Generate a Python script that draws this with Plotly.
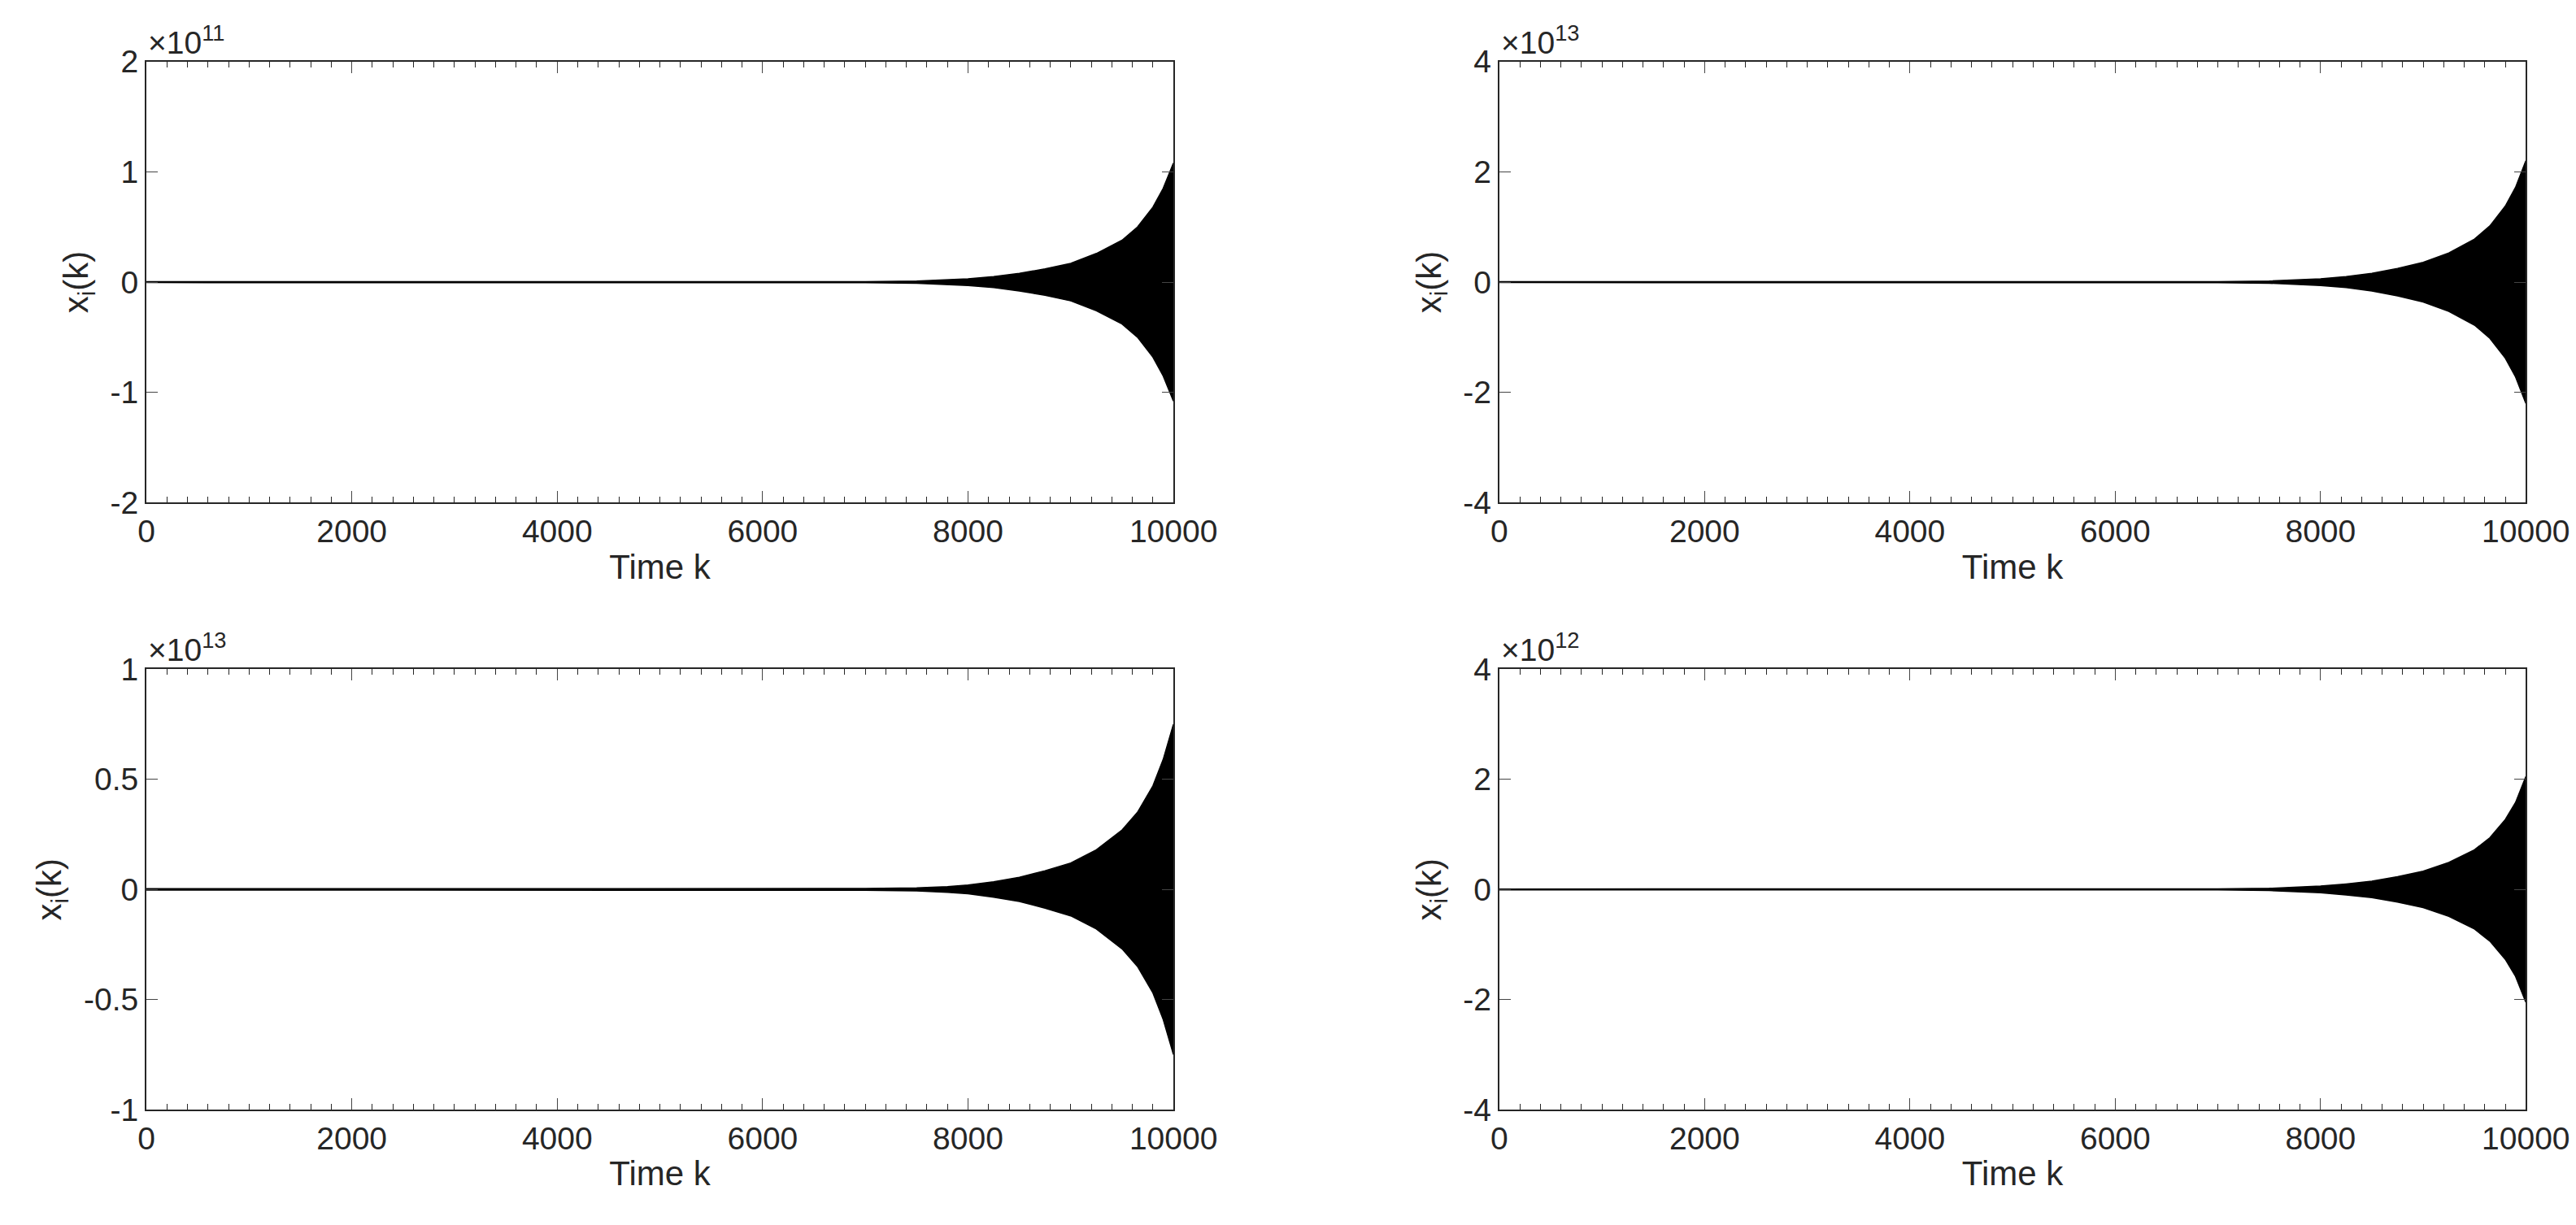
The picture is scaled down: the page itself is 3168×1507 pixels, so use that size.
import plotly.graph_objects as go
from plotly.subplots import make_subplots

# envelope of the oscillation |x_i(k)| (in units of the panel exponent)
k = [0, 1000, 2000, 3000, 4000, 5000, 6000, 7000, 7500, 7800, 8000, 8250, 8500, 8750, 9000, 9250, 9500, 9650, 9800, 9900, 10000]
env_a = [0.004, 0.004, 0.004, 0.004, 0.004, 0.004, 0.004, 0.005, 0.01, 0.02, 0.03, 0.05, 0.08, 0.12, 0.17, 0.26, 0.38, 0.5, 0.68, 0.85, 1.08]
env_b = [0.008, 0.008, 0.008, 0.008, 0.008, 0.008, 0.008, 0.01, 0.02, 0.04, 0.06, 0.1, 0.16, 0.25, 0.36, 0.53, 0.78, 1.02, 1.38, 1.72, 2.2]
env_c = [0.003, 0.003, 0.003, 0.003, 0.003, 0.003, 0.003, 0.004, 0.007, 0.013, 0.02, 0.035, 0.055, 0.085, 0.12, 0.18, 0.27, 0.35, 0.47, 0.59, 0.75]
env_d = [0.008, 0.008, 0.008, 0.008, 0.008, 0.008, 0.008, 0.01, 0.02, 0.04, 0.06, 0.1, 0.15, 0.23, 0.33, 0.49, 0.72, 0.94, 1.27, 1.58, 2.05]
x_ticks = [0, 2000, 4000, 6000, 8000, 10000]
x_labels = ["0", "2000", "4000", "6000", "8000", "10000"]

panels = [
    (env_a, "11", [-2, 2], [-2, -1, 0, 1, 2], ["-2", "-1", "0", "1", "2"]),
    (env_b, "13", [-4, 4], [-4, -2, 0, 2, 4], ["-4", "-2", "0", "2", "4"]),
    (env_c, "13", [-1, 1], [-1, -0.5, 0, 0.5, 1], ["-1", "-0.5", "0", "0.5", "1"]),
    (env_d, "12", [-4, 4], [-4, -2, 0, 2, 4], ["-4", "-2", "0", "2", "4"]),
]

fig = make_subplots(rows=2, cols=2)
font = dict(family="Liberation Sans, Arial", size=39, color="#262626")
title_font = dict(family="Liberation Sans, Arial", size=42, color="#262626")

for i, (env, expo, yr, tv, tt) in enumerate(panels):
    r, c = i // 2 + 1, i % 2 + 1
    fig.add_trace(go.Scatter(x=k, y=env, mode="lines", line=dict(color="black", width=1.5),
                             showlegend=False, hoverinfo="skip"), row=r, col=c)
    fig.add_trace(go.Scatter(x=k, y=[-v for v in env], mode="lines", line=dict(color="black", width=1.5),
                             fill="tonexty", fillcolor="black", showlegend=False, hoverinfo="skip"), row=r, col=c)
    fig.update_xaxes(range=[0, 10000], tickvals=x_ticks, ticktext=x_labels, automargin=False,
                     ticks="inside", ticklen=14, mirror="allticks", showline=True, linecolor="#262626",
                     linewidth=2, showgrid=False, zeroline=False, tickfont=font,
                     minor=dict(dtick=200, ticks="inside", ticklen=7, tickcolor="#262626"),
                     title=dict(text="Time k", font=title_font, standoff=8),
                     row=r, col=c)
    fig.update_yaxes(range=yr, tickvals=tv, ticktext=tt, automargin=False,
                     ticks="inside", ticklen=14, mirror="allticks", showline=True, linecolor="#262626",
                     linewidth=2, showgrid=False, zeroline=False, tickfont=font,
                     title=dict(text="x<sub>i</sub>(k)", font=title_font, standoff=14),
                     row=r, col=c)
    xref = "x domain" if i == 0 else f"x{i+1} domain"
    yref = "y domain" if i == 0 else f"y{i+1} domain"
    fig.add_annotation(x=0, y=1, xref=xref, yref=yref, xanchor="left", yanchor="bottom",
                       text=f"×10<sup>{expo}</sup>", showarrow=False, font=font)

fig.update_layout(width=3168, height=1507, plot_bgcolor="white", paper_bgcolor="white",
                  margin=dict(l=0, r=0, t=0, b=0))
fig.update_layout(
    xaxis=dict(domain=[0.0543, 0.4530]), xaxis2=dict(domain=[0.5795, 0.9780]),
    xaxis3=dict(domain=[0.0543, 0.4530]), xaxis4=dict(domain=[0.5795, 0.9780]),
    yaxis=dict(domain=[0.595, 0.955]), yaxis2=dict(domain=[0.595, 0.955]),
    yaxis3=dict(domain=[0.0995, 0.459]), yaxis4=dict(domain=[0.0995, 0.459]),
)

fig.write_html("out.html")
